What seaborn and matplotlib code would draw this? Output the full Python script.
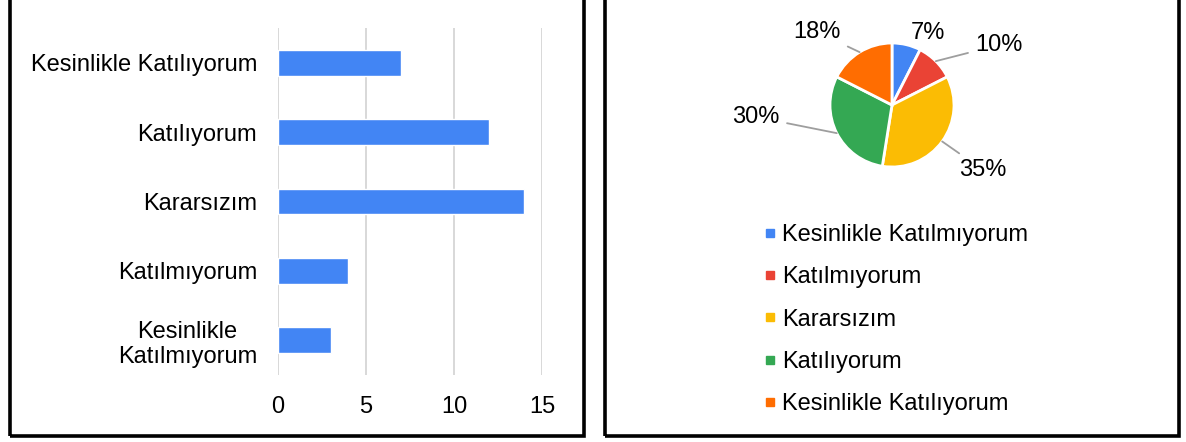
import matplotlib
matplotlib.use('Agg')
import numpy as np
import matplotlib.pyplot as plt
import seaborn as sns
from matplotlib.patches import Rectangle
from matplotlib.lines import Line2D

# bar chart data (top to bottom)
bar_labels = ["Kesinlikle Katılıyorum", "Katılıyorum", "Kararsızım",
              "Katılmıyorum", "Kesinlikle\nKatılmıyorum"]
bar_values = [7, 12, 14, 4, 3]

# pie data (clockwise from 12 o'clock)
pie_labels = ["Kesinlikle Katılmıyorum", "Katılmıyorum", "Kararsızım",
              "Katılıyorum", "Kesinlikle Katılıyorum"]
pie_values = [3, 4, 14, 12, 7]
pie_pct = ["7%", "10%", "35%", "30%", "18%"]
pie_colors = ["#4285F4", "#EA4335", "#FBBC04", "#34A853", "#FF6D01"]

sns.set_style("white")
plt.rcParams['font.family'] = ['Liberation Sans', 'DejaVu Sans']
plt.rcParams['text.color'] = 'black'
plt.rcParams['xtick.color'] = 'black'
plt.rcParams['ytick.color'] = 'black'
FS = 17

W, H = 1186, 442
fig = plt.figure(figsize=(W / 100, H / 100), dpi=100)

# ---- left: horizontal bars
ax = fig.add_axes([278 / W, 1 - 375 / H, (542 - 278) / W, (375 - 28) / H])
sns.barplot(x=bar_values, y=bar_labels, orient='h', color="#4285F4",
            saturation=1, width=0.37, ax=ax)
ax.set_xlim(0, 15)
ax.set_xticks([0, 5, 10, 15])
ax.grid(axis='x', color='#d6d6d6', linewidth=1.3)
ax.set_axisbelow(True)
for s in ax.spines.values():
    s.set_visible(False)
ax.tick_params(axis='x', length=0, pad=15, labelsize=FS, labelcolor='black')
ax.tick_params(axis='y', length=0, pad=15, labelsize=FS, labelcolor='black')
for t in ax.get_yticklabels():
    t.set_multialignment('center')
ax.set_xlabel('')
ax.set_ylabel('')

# ---- right: pie in pixel coordinates
x0, x1 = 606, 1180
ax2 = fig.add_axes([x0 / W, 0, (x1 - x0) / W, 1])
cx, cy, r = 892, H - 105, 62
wedges, _ = ax2.pie(pie_values, colors=pie_colors, startangle=90,
                    counterclock=False, center=(cx, cy), radius=r,
                    wedgeprops=dict(edgecolor='white', linewidth=2))
ax2.set_xlim(x0, x1)
ax2.set_ylim(0, H)
ax2.set_aspect('equal')
ax2.axis('off')

# label text positions (pixels from top-left)
label_pos = [(928, 33), (999, 45), (983, 170), (756, 117), (817, 32)]
for w, p, (lx, ly) in zip(wedges, pie_pct, label_pos):
    ang = np.deg2rad((w.theta1 + w.theta2) / 2)
    ex, ey = cx + r * np.cos(ang), cy + r * np.sin(ang)
    far = np.hypot(lx - ex, (H - ly) - ey) > 35
    ax2.annotate(p, xy=(ex, ey), xytext=(lx, H - ly), ha='center', va='center',
                 fontsize=FS, color='black',
                 arrowprops=dict(arrowstyle='-', color='#9e9e9e', lw=1.3,
                                 shrinkA=3, shrinkB=0) if far else None)

handles = [Line2D([], [], marker='s', linestyle='', markersize=6,
                  markerfacecolor=c, markeredgecolor=c) for c in pie_colors]
leg = fig.legend(handles, pie_labels, loc='upper left',
                 bbox_to_anchor=(763 / W, 1 - 224 / H), frameon=False,
                 fontsize=FS, handlelength=0.6, handletextpad=0.2,
                 labelspacing=0.86, borderpad=0, borderaxespad=0)
for t in leg.get_texts():
    t.set_color('black')

# ---- panel borders
for bx0, bx1 in [(10, 584), (605, 1179)]:
    fig.patches.append(Rectangle((bx0 / W, 1 - 436 / H), (bx1 - bx0) / W, 1,
                                 transform=fig.transFigure, fill=False,
                                 edgecolor='black', linewidth=2.6,
                                 clip_on=False))

fig.savefig("out.png", dpi=100)
